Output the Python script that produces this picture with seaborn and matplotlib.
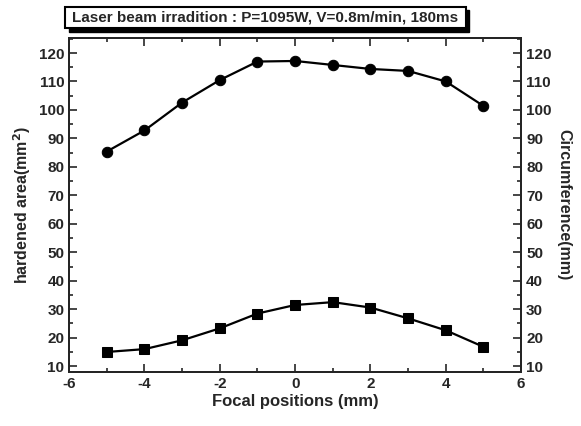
import numpy as np
import pandas as pd
import matplotlib
matplotlib.use('Agg')
import matplotlib.pyplot as plt
import seaborn as sns
from matplotlib.ticker import MultipleLocator
from matplotlib.patches import Rectangle

focal = [-5, -4, -3, -2, -1, 0, 1, 2, 3, 4, 5]
circumference = [85.4, 92.8, 102.6, 110.5, 117.0, 117.2, 115.8, 114.4, 113.7, 110.0, 101.4]
hardened_area = [15.0, 16.0, 19.1, 23.3, 28.5, 31.5, 32.5, 30.6, 26.8, 22.6, 16.8]
title_text = 'Laser beam irradition : P=1095W, V=0.8m/min, 180ms'

sns.set_style('ticks')
plt.rcParams['font.family'] = ['Liberation Sans', 'DejaVu Sans']
plt.rcParams['font.weight'] = 'bold'
plt.rcParams['axes.labelweight'] = 'bold'
plt.rcParams['axes.unicode_minus'] = False

df = pd.DataFrame({'focal': focal, 'circ': circumference, 'area': hardened_area})

fig = plt.figure(figsize=(5.81, 4.26), dpi=100)
ax = fig.add_axes([0.119, 0.127, 0.778, 0.784])

sns.lineplot(data=df, x='focal', y='circ', ax=ax, color='black', marker='o',
             markersize=7.5, linewidth=1.6, markeredgecolor='black')
sns.lineplot(data=df, x='focal', y='area', ax=ax, color='black', marker='s',
             markersize=7, linewidth=1.6, markeredgecolor='black')

ax.set_xlim(-6, 6)
ax.set_ylim(8, 125.3)
ax.xaxis.set_major_locator(MultipleLocator(2))
ax.xaxis.set_minor_locator(MultipleLocator(1))
ax.yaxis.set_major_locator(MultipleLocator(10))
ax.yaxis.set_minor_locator(MultipleLocator(5))
ax.tick_params(which='both', direction='in', top=True, width=1.2, labelsize=11)
ax.tick_params(which='major', length=6)
ax.tick_params(which='minor', length=3)
for s in ax.spines.values():
    s.set_linewidth(1.4)
    s.set_color('black')

ax.set_xlabel('Focal positions (mm)', fontsize=12, labelpad=2)
ax.set_ylabel('hardened area(mm$^\\mathbf{2}$)', fontsize=11.5, labelpad=4)

ax2 = ax.twinx()
ax2.set_ylim(ax.get_ylim())
ax2.yaxis.set_major_locator(MultipleLocator(10))
ax2.yaxis.set_minor_locator(MultipleLocator(5))
ax2.tick_params(which='both', direction='in', width=1.2, labelsize=11)
ax2.tick_params(which='major', length=6)
ax2.tick_params(which='minor', length=3)
ax2.set_ylabel('Circumference(mm)', fontsize=11.5, rotation=270, labelpad=14)
for s in ax2.spines.values():
    s.set_linewidth(1.4)

# title box with drop shadow
fig.patches.append(Rectangle((0.118, 0.925), 0.69, 0.052, transform=fig.transFigure,
                             facecolor='black', edgecolor='black', zorder=1))
fig.patches.append(Rectangle((0.112, 0.935), 0.69, 0.048, transform=fig.transFigure,
                             facecolor='white', edgecolor='black', linewidth=1.5, zorder=2))
fig.text(0.457, 0.958, title_text, ha='center', va='center', fontsize=11,
         fontweight='bold', zorder=3)

fig.savefig('out.png', dpi=100)
